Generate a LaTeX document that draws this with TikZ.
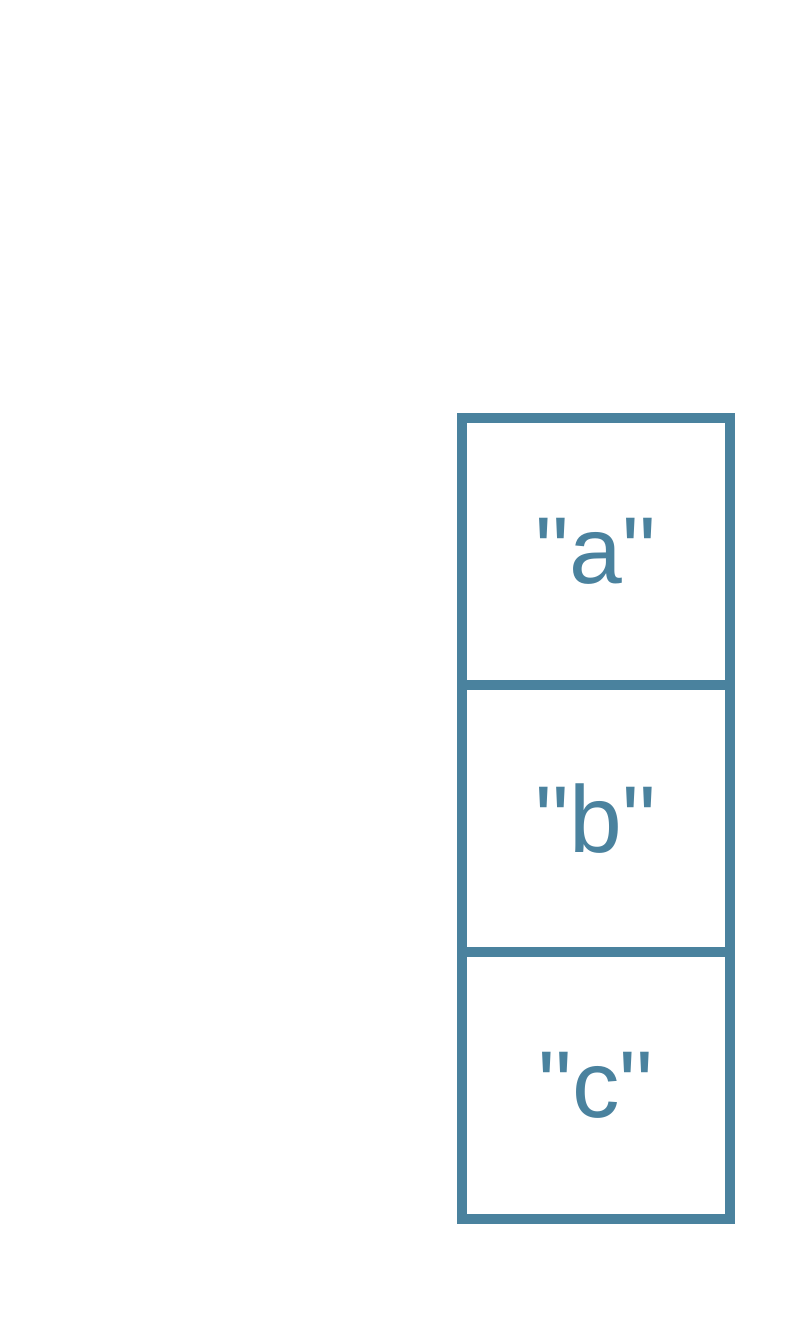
\documentclass[tikz,border=0pt]{standalone}
\usepackage{fontspec}
\setmainfont{Liberation Sans}
\usepackage{xcolor}
\usetikzlibrary{positioning}
\definecolor{cellblue}{RGB}{74,130,158}
\tikzstyle{cell} = [rectangle, minimum width=2.68cm, minimum height=2.67cm, text centered, draw=cellblue, line width=0.1cm, text=cellblue, font=\fontsize{27}{32}\selectfont]

\begin{document}
\begin{tikzpicture}[node distance=2.67cm]
	\useasboundingbox (0,0) rectangle (8,13.28);
	\node (cella) [cell] at (5.96,7.765) {\textquotedbl a\textquotedbl};
	\node (cellb) [cell, below of=cella] {\textquotedbl b\textquotedbl};
	\node (cellc) [cell, below of=cellb] {\textquotedbl c\textquotedbl};

\end{tikzpicture}
\end{document}
